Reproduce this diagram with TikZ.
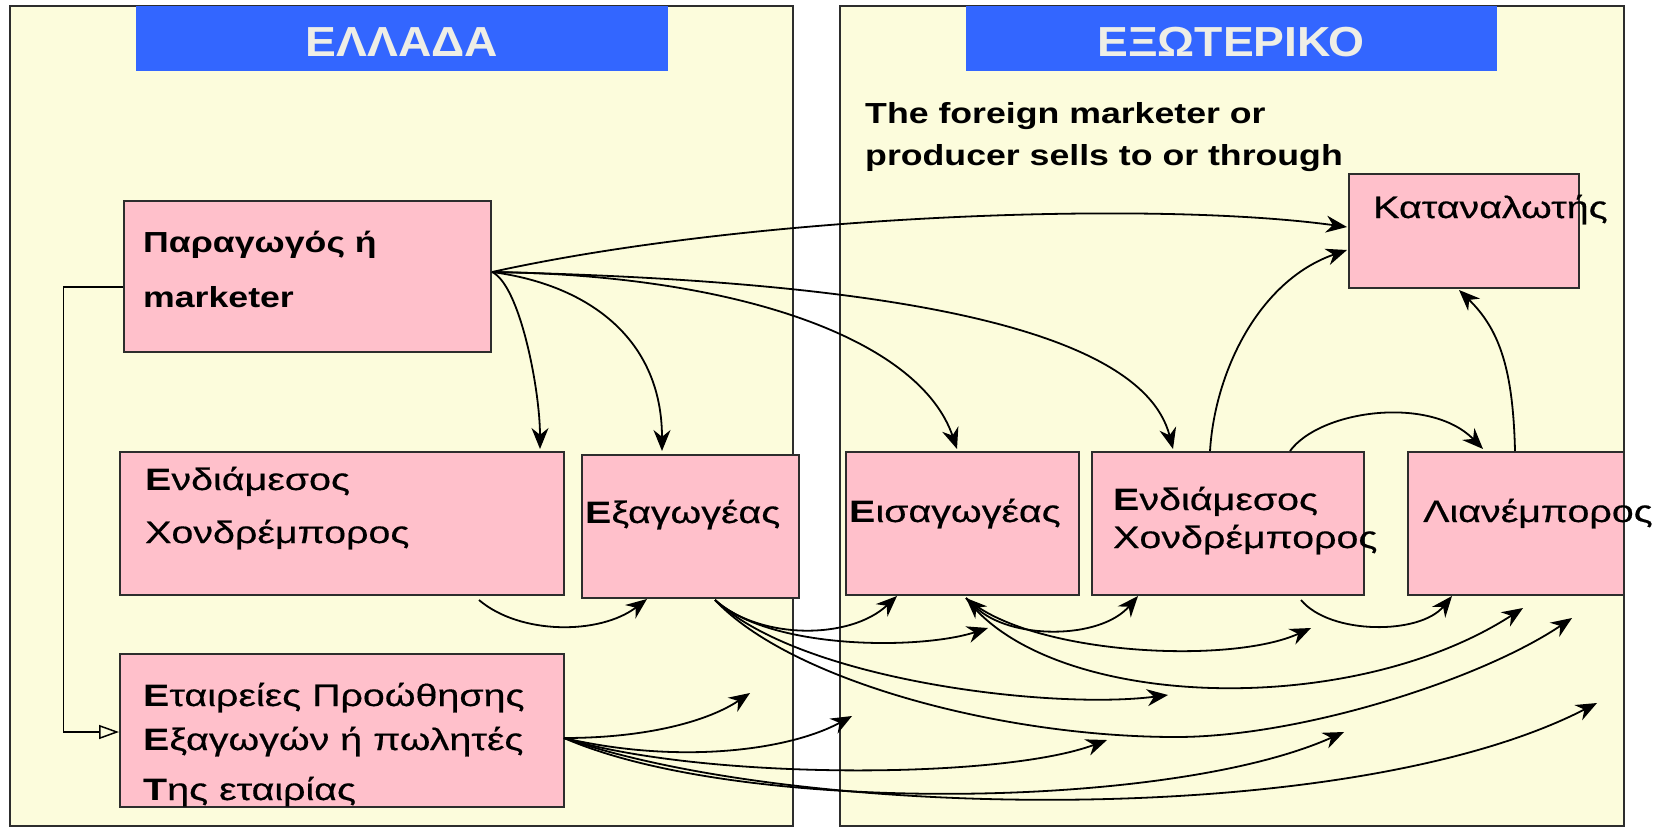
\documentclass[tikz,border=0pt]{standalone}
\usepackage{fontspec}
\setmainfont{Liberation Sans}
\newfontfamily\bxf{Liberation Sans}[FakeStretch=1.27, UprightFeatures={FakeBold=0.5}]
\newfontfamily\txf{Liberation Sans}[FakeStretch=1.23]
\newfontfamily\hxf{Liberation Sans}[FakeStretch=1.1]
\usetikzlibrary{arrows.meta}
\definecolor{panelfill}{RGB}{252,252,220}
\definecolor{boxfill}{RGB}{255,192,203}
\definecolor{headblue}{RGB}{51,102,255}
\definecolor{headtext}{RGB}{238,238,230}
\definecolor{edge}{RGB}{45,45,45}
\begin{document}
\begin{tikzpicture}[x=1pt,y=-1pt,
  panel/.style={draw=edge, fill=panelfill, line width=2pt},
  header/.style={fill=headblue, draw=none, inner sep=0pt, anchor=north west},
  pbox/.style={draw=edge, fill=boxfill, line width=1.8pt, inner sep=0pt, anchor=north west},
  lbl/.style={anchor=base west, inner sep=0pt, font=\bxf\fontsize{31}{32}\selectfont},
  blbl/.style={anchor=base west, inner sep=0pt, font=\txf\bfseries\fontsize{29}{30}\selectfont},
  htxt/.style={anchor=base, inner sep=0pt, text=headtext, font=\hxf\bfseries\fontsize{42}{43}\selectfont},
  conn/.style={line width=1.8pt, -{Stealth[length=21pt,width=17pt]}},
  dconn/.style={line width=1.8pt, {Stealth[length=21pt,width=17pt]}-{Stealth[length=21pt,width=17pt]}},
  opentip/.style={line width=1.5pt, -{Triangle[open,length=20pt,width=14pt]}},
]
\useasboundingbox (0,0) rectangle (1661,827);
\fill[white] (0,0) rectangle (1661,827);
% panels
\draw[panel] (9.5,6) rectangle (793,826);
\draw[panel] (839.5,6) rectangle (1624,826);
% headers
\node[header, minimum width=532pt, minimum height=65pt] (hL) at (136,6) {};
\node[header, minimum width=531pt, minimum height=65pt] (hR) at (966,6) {};
\node[htxt] (hLt) at (402,56) {ΕΛΛΑΔΑ};
\node[htxt] (hRt) at (1231,56) {ΕΞΩΤΕΡΙΚΟ};
% intro text
\node[blbl] (i1) at (865,123) {The foreign marketer or};
\node[blbl] (i2) at (865,165) {producer sells to or through};
% boxes
\node[pbox, minimum width=367pt, minimum height=151pt] (P) at (123,200) {};
\node[pbox, minimum width=444pt, minimum height=143pt] (EX1) at (119,451) {};
\node[pbox, minimum width=217pt, minimum height=143pt] (EXP) at (581,454) {};
\node[pbox, minimum width=444pt, minimum height=153pt] (ET) at (119,653) {};
\node[pbox, minimum width=233pt, minimum height=143pt] (IMP) at (845,451) {};
\node[pbox, minimum width=272pt, minimum height=143pt] (EX2) at (1091,451) {};
\node[pbox, minimum width=216pt, minimum height=143pt] (RET) at (1407,451) {};
\node[pbox, minimum width=230pt, minimum height=114pt] (CON) at (1348,173) {};
% box texts
\node[blbl] (tP1) at (143,252) {Παραγωγός ή};
\node[blbl] (tP2) at (143,307) {marketer};
\node[lbl] (tE1a) at (145,490) {{\bfseries Ε}νδιάμεσος};
\node[lbl] (tE1b) at (145,543) {Χονδρέμπορος};
\node[lbl] (tX) at (585,523) {{\bfseries Ε}ξαγωγέας};
\node[lbl] (tT1) at (143,706) {{\bfseries Ε}ταιρείες Προώθησης};
\node[lbl] (tT2) at (143,750) {{\bfseries Ε}ξαγωγών ή πωλητές};
\node[lbl] (tT3) at (143,800) {{\bfseries Τ}ης εταιρίας};
\node[lbl] (tI) at (849,522) {{\bfseries Ε}ισαγωγέας};
\node[lbl] (tE2a) at (1113,510) {{\bfseries Ε}νδιάμεσος};
\node[lbl] (tE2b) at (1113,548) {Χονδρέμπορος};
\node[lbl] (tR) at (1423,522) {Λιανέμπορος};
\node[lbl] (tC) at (1373,218) {Καταναλωτής};
% attachment points
\coordinate (Pout) at (492,272);
\coordinate (Pl) at (123,287);
\coordinate (ETl) at (119,732);
\coordinate (EX1b) at (479,600);
\coordinate (EXPb) at (715,600);
\coordinate (ETr) at (564,738);
\coordinate (IMPb) at (966,598);
\coordinate (EX2t1) at (1210,451);
\coordinate (EX2t2) at (1290,451);
\coordinate (EX2b) at (1301,600);
\coordinate (RETt) at (1515,451);
% free ends
\coordinate (fa) at (750,693);
\coordinate (fb) at (988,628);
\coordinate (fc) at (1168,695);
\coordinate (fd) at (1572,618);
\coordinate (fe) at (852,716);
\coordinate (ff) at (1107,740);
\coordinate (fg) at (1344,732);
\coordinate (fh) at (1597,703);
\coordinate (fj) at (1311,628);
\coordinate (fk) at (1523,608);
% left bracket connector
\draw[opentip] (Pl) -- ++(-59.5,0) |- (ETl);
% from producer
\draw[conn] (Pout) .. controls (750,215) and (1150,200) .. (1347,227);
\draw[conn] (Pout) .. controls (520,285) and (540,390) .. (540,449);
\draw[conn] (Pout) .. controls (590,285) and (662,340) .. (662,451);
\draw[conn] (Pout) .. controls (740,275) and (920,340) .. (957,449);
\draw[conn] (Pout) .. controls (850,280) and (1140,320) .. (1173,449);
% top right
\draw[conn] (EX2t1) .. controls (1215,370) and (1260,280) .. (1347,250);
\draw[conn] (RETt) .. controls (1513,370) and (1500,330) .. (1459,290);
\draw[conn] (EX2t2) .. controls (1320,410) and (1430,395) .. (1483,449);
% lower left
\draw[conn] (EX1b) .. controls (520,635) and (600,635) .. (647,599);
\draw[conn] (ETr) .. controls (650,738) and (710,720) .. (fa);
% exporter fan
\draw[conn] (EXPb) .. controls (760,640) and (850,640) .. (897,596);
\draw[conn] (EXPb) .. controls (770,650) and (920,650) .. (fb);
\draw[conn] (EXPb) .. controls (800,680) and (1050,710) .. (fc);
\draw[conn] (EXPb) .. controls (790,680) and (1000,737) .. (1176,737) .. controls (1300,737) and (1480,680) .. (fd);
% ET fan
\draw[conn] (ETr) .. controls (680,765) and (790,750) .. (fe);
\draw[conn] (ETr) .. controls (700,780) and (1000,780) .. (ff);
\draw[conn] (ETr) .. controls (740,815) and (1170,810) .. (fg);
\draw[conn] (ETr) .. controls (800,820) and (1350,830) .. (fh);
% importer fan
\draw[dconn] (IMPb) .. controls (1010,640) and (1100,640) .. (1138,596);
\draw[conn] (IMPb) .. controls (1030,655) and (1230,665) .. (fj);
\draw[conn] (IMPb) .. controls (1050,710) and (1350,720) .. (fk);
% wholesaler to retailer
\draw[conn] (EX2b) .. controls (1330,635) and (1420,635) .. (1452,596);
\end{tikzpicture}
\end{document}
